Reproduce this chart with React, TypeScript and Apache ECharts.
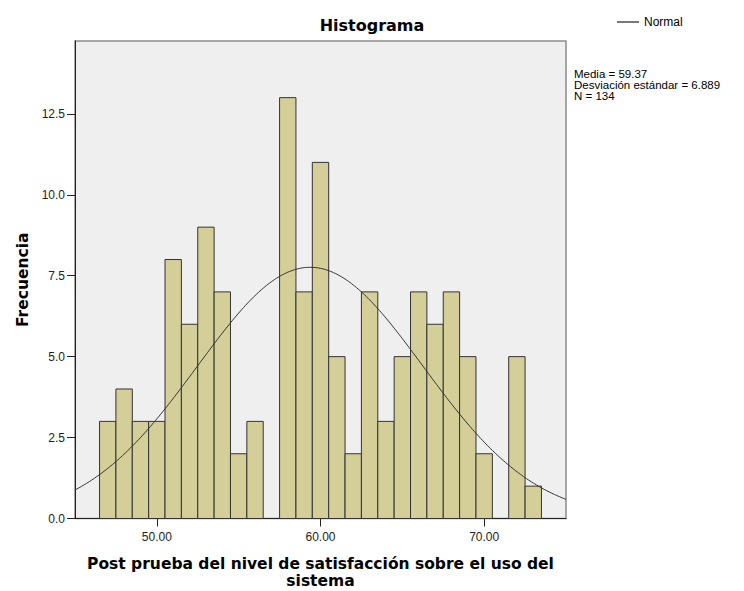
import React, { useEffect, useRef } from "react";
import * as echarts from "echarts";

const BIN_CENTERS = [47, 48, 49, 50, 51, 52, 53, 54, 55, 56, 57, 58, 59, 60, 61, 62, 63, 64, 65, 66, 67, 68, 69, 70, 71, 72, 73];
const COUNTS = [3, 4, 3, 3, 8, 6, 9, 7, 2, 3, 0, 13, 7, 11, 5, 2, 7, 3, 5, 7, 6, 7, 5, 2, 0, 5, 1];
const BIN_WIDTH = 1;
const MEAN = 59.37;
const SD = 6.889;
const N = 134;
const X_TICKS = [50, 60, 70];
const Y_TICKS = [0, 2.5, 5, 7.5, 10, 12.5];
const X_MIN = 45;
const X_MAX = 75;
const Y_MAX = 14.75;
const STATS_LINES = ["Media = " + MEAN.toFixed(2), "Desviación estándar = " + SD.toFixed(3), "N = " + N];

const FONT = "'Liberation Sans', Arial, sans-serif";
const BOLD_FONT = "'DejaVu Sans', Verdana, sans-serif";

export default function App() {
  const ref = useRef<HTMLDivElement>(null);
  useEffect(() => {
    document.body.style.margin = "0";
    if (!ref.current) return;
    const chart = echarts.init(ref.current, null, { renderer: "svg" });

    const barData = BIN_CENTERS.map((c, i) => [c, COUNTS[i]]);
    // Normal curve implied by the stated mean, SD and N (scaled to bin width)
    const curve: number[][] = [];
    for (let k = 0; k <= 300; k++) {
      const x = X_MIN + ((X_MAX - X_MIN) * k) / 300;
      const z = (x - MEAN) / SD;
      const y = (N * BIN_WIDTH) / (SD * Math.sqrt(2 * Math.PI)) * Math.exp(-0.5 * z * z);
      curve.push([x, y]);
    }

    chart.setOption({
      animation: false,
      textStyle: { fontFamily: FONT },
      title: {
        text: "Histograma",
        left: "center",
        top: 17,
        padding: 0,
        textStyle: { fontFamily: BOLD_FONT, fontSize: 16, fontWeight: "bold", color: "#000" },
      },
      legend: {
        data: [{ name: "Normal" }],
        left: 617,
        top: 16,
        padding: 0,
        icon: "rect",
        itemWidth: 22,
        itemHeight: 1.2,
        itemStyle: { color: "#222" },
        textStyle: { fontFamily: FONT, fontSize: 12, color: "#000" },
      },
      grid: {
        left: 75,
        top: 41,
        right: 178,
        bottom: 72.5,
        show: true,
        backgroundColor: "#efefef",
        borderColor: "#8c8c8c",
        borderWidth: 1.5,
        outerBoundsMode: "none",
      },
      xAxis: {
        type: "value",
        min: X_MIN,
        max: X_MAX,
        name: "Post prueba del nivel de satisfacción sobre el uso del\nsistema",
        nameLocation: "middle",
        nameGap: 37,
        nameTextStyle: { fontFamily: BOLD_FONT, fontSize: 15.5, fontWeight: "bold", color: "#000", lineHeight: 17 },
        axisLine: { show: true, lineStyle: { color: "#222", width: 1 } },
        axisTick: { show: true, length: 8, customValues: X_TICKS, lineStyle: { color: "#222" } },
        axisLabel: {
          customValues: X_TICKS,
          margin: 12,
          fontSize: 12,
          color: "#222",
          fontFamily: FONT,
          formatter: (v: number) => v.toFixed(2),
        },
        splitLine: { show: false },
      },
      yAxis: {
        type: "value",
        min: 0,
        max: Y_MAX,
        name: "Frecuencia",
        nameLocation: "middle",
        nameGap: 43,
        nameTextStyle: { fontFamily: BOLD_FONT, fontSize: 15.5, fontWeight: "bold", color: "#000" },
        axisLine: { show: true, lineStyle: { color: "#222", width: 1 } },
        axisTick: { show: true, length: 8, customValues: Y_TICKS, lineStyle: { color: "#222" } },
        axisLabel: {
          customValues: Y_TICKS,
          margin: 10,
          fontSize: 12,
          color: "#222",
          fontFamily: FONT,
          formatter: (v: number) => v.toFixed(1),
        },
        splitLine: { show: false },
      },
      graphic: STATS_LINES.map((t, i) => ({
        type: "text",
        left: 574,
        top: 67.5 + i * 11,
        style: {
          text: t,
          font: "11.5px " + FONT,
          fill: "#000",
        },
      })),
      series: [
        {
          type: "custom",
          name: "Frecuencia",
          data: barData,
          encode: { x: 0, y: 1 },
          renderItem: (params: any, api: any) => {
            const x = api.value(0);
            const y = api.value(1);
            if (!y) return null;
            const p1 = api.coord([x - BIN_WIDTH / 2, y]);
            const p2 = api.coord([x + BIN_WIDTH / 2, 0]);
            return {
              type: "rect",
              shape: { x: p1[0], y: p1[1], width: p2[0] - p1[0], height: p2[1] - p1[1] },
              style: { fill: "#d4cf99", stroke: "#333", lineWidth: 1 },
            };
          },
          z: 2,
        },
        {
          type: "line",
          name: "Normal",
          data: curve,
          showSymbol: false,
          symbol: "none",
          lineStyle: { color: "#333", width: 1 },
          itemStyle: { color: "#222" },
          z: 3,
        },
      ],
    });
    return () => chart.dispose();
  }, []);
  return <div ref={ref} style={{ width: 744, height: 591 }} />;
}
